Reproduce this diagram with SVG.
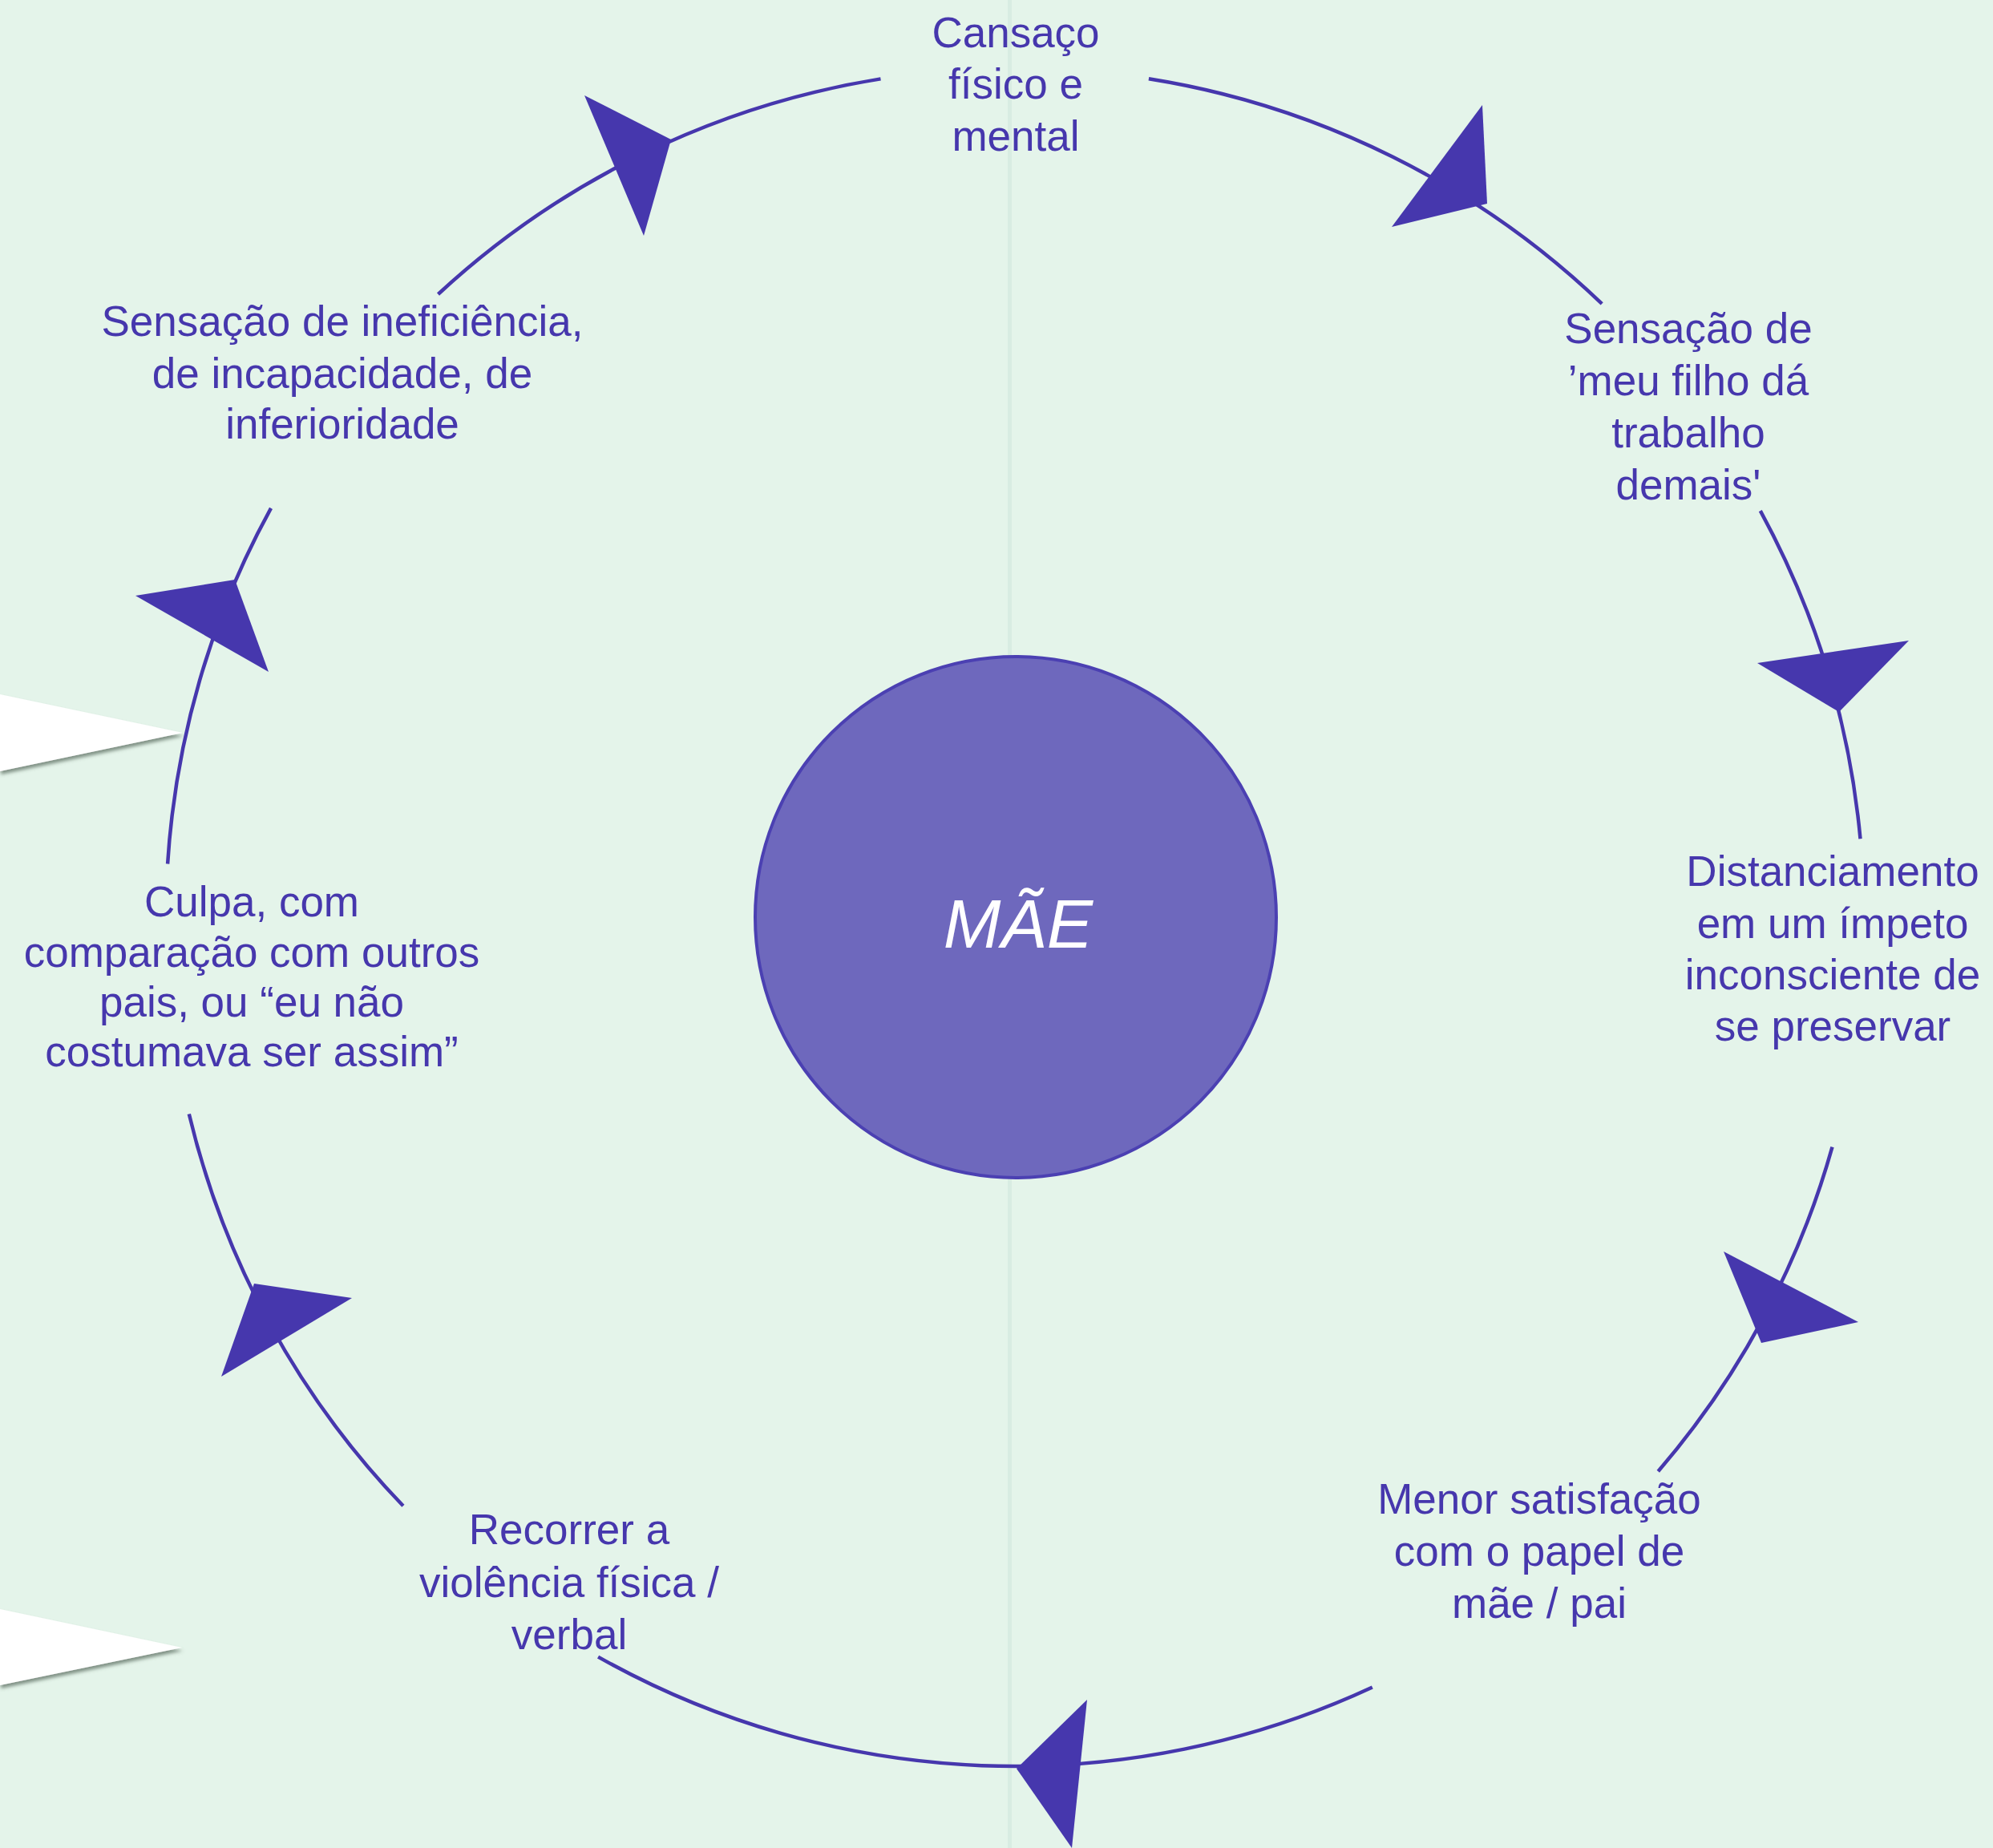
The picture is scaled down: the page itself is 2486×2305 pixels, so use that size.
<svg xmlns="http://www.w3.org/2000/svg" width="2486" height="2305" viewBox="0 0 2486 2305">
<defs>
<style>
.lbl{font-family:"Liberation Sans",Arial,sans-serif;font-size:53px;fill:#4637ad;text-anchor:middle}
.arc{fill:none;stroke:#4637ad;stroke-width:4.5}
.head{fill:#4637ad}
.flag{fill:#ffffff;filter:url(#sh)}
</style>
<filter id="sh" x="-20%" y="-30%" width="140%" height="180%">
<feDropShadow dx="1" dy="4" stdDeviation="2" flood-color="#55665a" flood-opacity="0.7"/>
</filter>
</defs>
<rect x="0" y="0" width="2486" height="2305" fill="#e4f4ea"/>
<rect x="1257" y="0" width="5" height="2305" fill="#d8ece2"/>
<g id="flags">
<polygon class="flag" points="0,866 228,914 0,962"/>
<polygon class="flag" points="0,2007 227,2055 0,2102"/>
</g>
<g id="connectors">
<path class="arc" d="M1432.9,98.2 A1059,1059 0 0 1 1998.2,378.9"/>
<path class="arc" d="M2195.8,637.1 A1059,1059 0 0 1 2320.5,1046.2"/>
<path class="arc" d="M2285.5,1430.6 A1059,1059 0 0 1 2068.3,1835.2"/>
<path class="arc" d="M1711.8,2104.5 A1059,1059 0 0 1 746.1,2066.6"/>
<path class="arc" d="M502.9,1878.3 A1059,1059 0 0 1 235.8,1389.5"/>
<path class="arc" d="M209.1,1077.5 A1059,1059 0 0 1 338.0,633.8"/>
<path class="arc" d="M546.5,367.0 A1059,1059 0 0 1 1098.5,98.4"/>
<polygon class="head" points="1849,131 1855,254 1736,283"/>
<polygon class="head" points="2192,827 2381,799 2294,888"/>
<polygon class="head" points="2150,1561 2318,1649 2197,1675"/>
<polygon class="head" points="1356,2120 1268,2206 1337,2305"/>
<polygon class="head" points="317,1601 439,1619 276,1717"/>
<polygon class="head" points="169,743 293,723 335,838"/>
<polygon class="head" points="729,119 837,174 803,294"/>
</g>
<g id="node-mae">
<circle cx="1267" cy="1144" r="325" fill="#6e68bd" stroke="#4b40b2" stroke-width="4"/>
<text x="1270" y="1182" style="font-family:'Liberation Sans',Arial,sans-serif;font-size:86px;font-style:italic;fill:#ffffff;text-anchor:middle">MÃE</text>
</g>
<g id="node-cansaco">
<text class="lbl" x="1267" y="59">Cansaço</text>
<text class="lbl" x="1267" y="123">físico e</text>
<text class="lbl" x="1267" y="188">mental</text>
</g>
<g id="node-trabalho">
<text class="lbl" x="2106" y="428">Sensação de</text>
<text class="lbl" x="2106" y="493">’meu filho dá</text>
<text class="lbl" x="2106" y="558">trabalho</text>
<text class="lbl" x="2106" y="623">demais'</text>
</g>
<g id="node-distanciamento">
<text class="lbl" x="2286" y="1105">Distanciamento</text>
<text class="lbl" x="2286" y="1170">em um ímpeto</text>
<text class="lbl" x="2286" y="1234">inconsciente de</text>
<text class="lbl" x="2286" y="1298">se preservar</text>
</g>
<g id="node-satisfacao">
<text class="lbl" x="1920" y="1888">Menor satisfação</text>
<text class="lbl" x="1920" y="1953">com o papel de</text>
<text class="lbl" x="1920" y="2018">mãe / pai</text>
</g>
<g id="node-violencia">
<text class="lbl" x="710" y="1926">Recorrer a</text>
<text class="lbl" x="710" y="1992">violência física /</text>
<text class="lbl" x="710" y="2057">verbal</text>
</g>
<g id="node-culpa">
<text class="lbl" x="314" y="1143">Culpa, com</text>
<text class="lbl" x="314" y="1206">comparação com outros</text>
<text class="lbl" x="314" y="1268">pais, ou “eu não</text>
<text class="lbl" x="314" y="1330">costumava ser assim”</text>
</g>
<g id="node-ineficiencia">
<text class="lbl" x="427" y="419">Sensação de ineficiência,</text>
<text class="lbl" x="427" y="484">de incapacidade, de</text>
<text class="lbl" x="427" y="547">inferioridade</text>
</g>
</svg>
